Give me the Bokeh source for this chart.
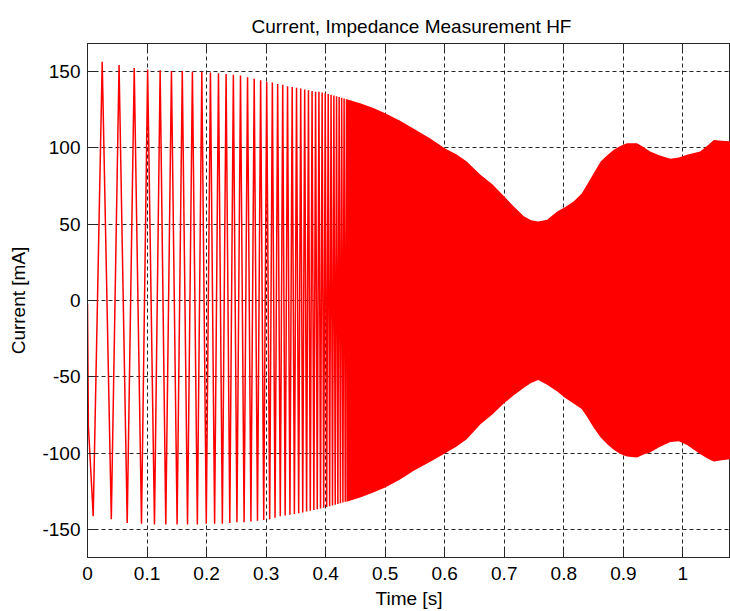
from bokeh.plotting import figure
from bokeh.models import FixedTicker, LinearAxis
from bokeh.embed import file_html
from bokeh.resources import INLINE

# ---- data ----
x_ticks = [0.0, 0.1, 0.2, 0.3, 0.4, 0.5, 0.6, 0.7, 0.8, 0.9, 1.0]
x_tick_labels = ["0", "0.1", "0.2", "0.3", "0.4", "0.5", "0.6", "0.7", "0.8", "0.9", "1"]
y_ticks = [-150, -100, -50, 0, 50, 100, 150]
y_tick_labels = ["-150", "-100", "-50", "0", "50", "100", "150"]

# start of the record
start_t = [0.0, 0.0015]
start_v = [-2.0, -82.0]

# negative extremes (troughs) of the sweep, time [s] and current [mA]
trough_t = [0.0096, 0.0400, 0.0667, 0.0907, 0.1125, 0.1315, 0.1505, 0.1680, 0.1845, 0.1995,
            0.2135, 0.2265, 0.2390, 0.2510, 0.2630, 0.2745, 0.2855, 0.2960, 0.3060, 0.3150,
            0.3238, 0.3320, 0.3400, 0.3475, 0.3547, 0.3615, 0.3680, 0.3742, 0.3802, 0.3859,
            0.3914, 0.3967, 0.4018, 0.4067, 0.4115, 0.4161, 0.4205, 0.4248, 0.4290, 0.4330,
            0.4369, 0.4407, 0.4444]
trough_v = [-141.0, -143.0, -145.5, -146.0, -146.5, -146.5, -146.5, -146.5, -146.5, -146.0,
            -146.0, -146.0, -145.5, -145.0, -145.0, -144.5, -144.0, -143.5, -143.0, -142.0,
            -141.0, -140.5, -140.0, -139.5, -139.0, -138.5, -138.0, -137.5, -137.0, -136.5,
            -136.0, -135.5, -135.0, -134.5, -134.0, -133.5, -133.0, -132.5, -132.0, -131.5,
            -131.0, -130.5, -130.0]

# positive extremes (peaks)
peak_t = [0.0247, 0.0530, 0.0785, 0.1010, 0.1220, 0.1410, 0.1592, 0.1762, 0.1920, 0.2065,
          0.2200, 0.2328, 0.2450, 0.2570, 0.2688, 0.2800, 0.2908, 0.3010, 0.3105, 0.3194,
          0.3279, 0.3360, 0.3438, 0.3511, 0.3581, 0.3648, 0.3711, 0.3772, 0.3831, 0.3887,
          0.3941, 0.3993, 0.4043, 0.4091, 0.4138, 0.4183, 0.4227, 0.4269, 0.4310, 0.4350,
          0.4388, 0.4426]
peak_v = [156.0, 154.0, 152.0, 151.0, 150.5, 150.0, 150.0, 149.5, 149.5, 149.0,
          148.5, 148.0, 147.5, 147.0, 146.0, 145.0, 144.0, 143.0, 142.5, 141.5,
          141.0, 140.0, 139.5, 139.0, 138.5, 138.0, 137.5, 137.0, 136.5, 136.5,
          136.0, 135.5, 135.0, 134.5, 134.0, 133.5, 133.0, 132.5, 132.0, 131.5,
          131.0, 130.5]

# dense part of the sweep: upper and lower envelope
band_t = [0.435, 0.458, 0.480, 0.500, 0.525, 0.548, 0.575, 0.600, 0.620, 0.637, 0.660,
          0.680, 0.700, 0.716, 0.733, 0.745, 0.757, 0.772, 0.789, 0.802, 0.817, 0.830,
          0.839, 0.850, 0.862, 0.873, 0.884, 0.895, 0.906, 0.923, 0.935, 0.945, 0.960,
          0.979, 0.993, 1.007, 1.029, 1.042, 1.052, 1.065, 1.080]
upper_v = [131.5, 128.9, 125.8, 122.4, 117.5, 112.2, 106.0, 99.5, 95.5, 90.8, 82.2,
           76.0, 68.0, 61.5, 55.0, 52.5, 51.7, 52.8, 58.2, 61.0, 64.8, 70.0,
           75.6, 83.0, 90.8, 95.0, 98.5, 101.0, 102.8, 102.8, 100.0, 97.4, 95.0,
           92.6, 93.5, 95.2, 97.4, 101.5, 105.0, 104.5, 104.0]
lower_v = [-131.5, -128.7, -125.5, -122.2, -117.0, -111.3, -105.5, -100.0, -95.5, -90.7, -80.9,
           -74.5, -67.0, -62.0, -57.0, -54.0, -52.0, -55.0, -59.5, -63.5, -67.5, -71.0,
           -76.0, -83.0, -89.5, -94.0, -97.5, -100.4, -102.0, -102.6, -100.5, -99.4, -96.0,
           -92.5, -92.0, -94.5, -100.4, -103.5, -105.2, -104.5, -103.7]

# ---- figure ----
FONT = "Liberation Sans"
p = figure(width=730, height=611, x_range=(0, 1.08), y_range=(-168, 168),
           output_backend="svg", toolbar_location=None,
           min_border_left=87, min_border_right=0, min_border_top=43, min_border_bottom=53,
           title="Current, Impedance Measurement HF")
p.title.text_font = FONT
p.title.text_font_size = "19px"
p.title.text_font_style = "normal"
p.title.align = "left"
p.title.offset = 164
p.title.text_color = "#000000"
p.title.standoff = 14
p.outline_line_color = "#262626"
p.background_fill_color = "white"
p.border_fill_color = "white"

# signal: sparse sweep as polyline through the extremes
sig_t = list(start_t)
sig_v = list(start_v)
for i in range(len(peak_t)):
    sig_t += [trough_t[i], peak_t[i]]
    sig_v += [trough_v[i], peak_v[i]]
sig_t.append(trough_t[-1])
sig_v.append(trough_v[-1])

p.line(sig_t, sig_v, line_color="#ff0000", line_width=1.5)
p.varea(x=band_t, y1=lower_v, y2=upper_v, fill_color="#ff0000")

# axes
for ax in (p.xaxis[0], p.yaxis[0]):
    ax.major_tick_in = 8
    ax.major_tick_out = 0
    ax.minor_tick_line_color = None
    ax.axis_line_color = "#262626"
    ax.major_tick_line_color = "#262626"
    ax.major_label_text_font = FONT
    ax.major_label_text_font_size = "19px"
    ax.major_label_text_color = "#000000"
    ax.axis_label_text_font = FONT
    ax.axis_label_text_font_size = "19px"
    ax.axis_label_text_font_style = "normal"
    ax.axis_label_text_color = "#000000"

p.xaxis.ticker = FixedTicker(ticks=x_ticks)
p.xaxis.major_label_overrides = {t: s for t, s in zip(x_ticks, x_tick_labels)}
p.xaxis.major_label_standoff = 9
p.xaxis.axis_label = "Time [s]"
p.xaxis.axis_label_standoff = 5

p.yaxis.ticker = FixedTicker(ticks=y_ticks)
p.yaxis.major_label_overrides = {t: s for t, s in zip(y_ticks, y_tick_labels)}
p.yaxis.major_label_standoff = 7
p.yaxis.axis_label = "Current [mA]"
p.yaxis.axis_label_standoff = 10

# box ticks on top (no labels drawn)
top = LinearAxis(ticker=FixedTicker(ticks=x_ticks), major_tick_in=8, major_tick_out=0,
                 minor_tick_line_color=None, major_label_text_font_size="5px",
                 major_label_text_color=None, major_label_standoff=0,
                 axis_line_color="#262626", major_tick_line_color="#262626")
p.add_layout(top, "above")

# grid
for g in (p.xgrid[0], p.ygrid[0]):
    g.grid_line_color = "#262626"
    g.grid_line_dash = "4 3"
    g.grid_line_width = 1
    g.grid_line_alpha = 1.0
p.xgrid.ticker = FixedTicker(ticks=x_ticks)
p.ygrid.ticker = FixedTicker(ticks=y_ticks)

open("out.html", "w").write(file_html(p, INLINE))
